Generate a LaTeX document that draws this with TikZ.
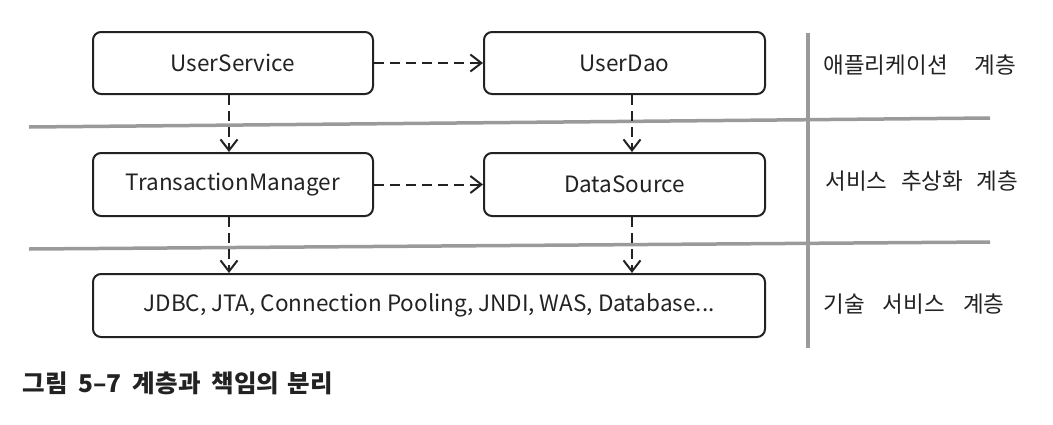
\documentclass[tikz,border=0pt]{standalone}
\usepackage{fontspec}
\setmainfont{Noto Sans CJK KR}
\usetikzlibrary{arrows.meta,decorations.markings}
\definecolor{ink}{HTML}{222222}
\definecolor{rule}{HTML}{9A9A9A}
\newcommand{\wgap}[1]{\hspace{#1em}}
\tikzset{
  block/.style={draw=ink, line width=2pt, rounded corners=8pt, text=ink,
    font=\fontsize{22.5}{26}\selectfont, inner sep=0pt},
  % dashed shaft, solid open head placed at the end of the path
  depends/.style={draw=ink, line width=2pt, dash pattern=on 10pt off 6pt,
    shorten >=1.5pt,
    decoration={markings, mark=at position 1 with {%
      \pgfsetdash{}{0pt}%
      \arrow[line width=2pt]{Straight Barb[length=11pt,width=17pt]}}},
    postaction=decorate},
  layerrule/.style={draw=rule, line width=3.5pt},
  layername/.style={text=ink, font=\fontsize{22.5}{26}\selectfont, anchor=west},
}
\begin{document}
\begin{tikzpicture}[x=1pt,y=-1pt]
  \useasboundingbox (0,0) rectangle (1053,424);

  % layer separators
  \draw[layerrule] (29,127) -- (990,118);
  \draw[layerrule] (29,249) -- (990,242);
  \draw[layerrule] (808,33) -- (808,348);

  % components
  \node[block, minimum width=280pt, minimum height=62pt] (us) at (233,63) {UserService};
  \node[block, minimum width=281pt, minimum height=62pt] (dao) at (624.5,63) {UserDao};
  \node[block, minimum width=280pt, minimum height=63pt] (tm) at (233,184.5) {TransactionManager};
  \node[block, minimum width=281pt, minimum height=63pt] (ds) at (624.5,184.5) {DataSource};
  \node[block, minimum width=672pt, minimum height=63pt] (tech) at (429,305.5)
    {JDBC, JTA, Connection Pooling, JNDI, WAS, Database...};

  % dependencies
  \draw[depends] (us.east) -- (dao.west);
  \draw[depends] (tm.east) -- (ds.west);
  \draw[depends] (us.south -| 229,0) -- (tm.north -| 229,0);
  \draw[depends] (dao.south -| 632,0) -- (ds.north -| 632,0);
  \draw[depends] (tm.south -| 229,0) -- (tech.north -| 229,0);
  \draw[depends] (ds.south -| 632,0) -- (tech.north -| 632,0);

  % layer names
  \node[layername] (l1) at (820,65) {애플리케이션\wgap{1.2}계층};
  \node[layername] (l2) at (822,181) {서비스\wgap{0.6}추상화\wgap{0.6}계층};
  \node[layername] (l3) at (820,304) {기술\wgap{0.8}서비스\wgap{0.8}계층};

  % caption
  \node[anchor=west, text=ink, font=\bfseries\fontsize{24.5}{28}\selectfont] (cap) at (19,383)
    {그림\wgap{0.45}5–7\wgap{0.45}계층과\wgap{0.45}책임의\wgap{0.35}분리};
\end{tikzpicture}
\end{document}
